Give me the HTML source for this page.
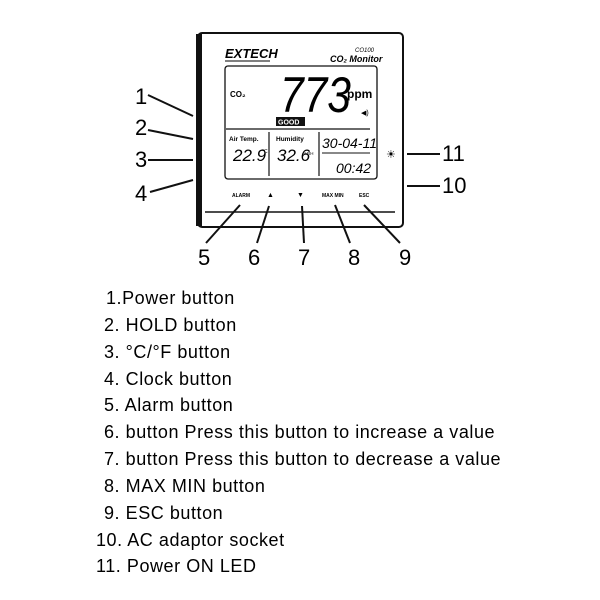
<!DOCTYPE html><html><head><style>
body{margin:0;background:#fff;width:600px;height:600px;overflow:hidden;position:relative;font-family:"Liberation Sans",sans-serif}
.l{position:absolute;font-size:18px;letter-spacing:0.55px;color:#000;white-space:nowrap}
</style></head><body>
<svg width="600" height="600" style="position:absolute;left:0;top:0" font-family="Liberation Sans, sans-serif">
<rect x="198" y="33" width="205" height="194" rx="4" fill="#fff" stroke="#111" stroke-width="2"/>
<rect x="196" y="34" width="6" height="192" fill="#111"/>
<line x1="205" y1="212" x2="395" y2="212" stroke="#111" stroke-width="1.5"/>
<text x="225" y="58" font-size="13" font-weight="bold" font-style="italic">EXTECH</text>
<line x1="225" y1="61" x2="270" y2="61" stroke="#000"/>
<text x="355" y="52" font-size="6" font-style="italic">CO100</text>
<text x="330" y="62" font-size="9" font-weight="bold" font-style="italic">CO₂ Monitor</text>
<rect x="225" y="66" width="152" height="113" rx="3" fill="#fff" stroke="#111" stroke-width="1.3"/>
<text x="230" y="97" font-size="8" font-weight="bold">CO₂</text>
<text x="280" y="112" font-size="50" font-style="italic" transform="scale(0.85,1)" transform-origin="280 112">773</text>
<text x="347" y="98" font-size="12" font-weight="bold">ppm</text>
<text x="361" y="115" font-size="7">◀)</text>
<rect x="276" y="117" width="29" height="9" fill="#111"/>
<text x="278" y="124.5" font-size="7" font-weight="bold" fill="#fff">GOOD</text>
<line x1="226" y1="129" x2="370" y2="129" stroke="#111" stroke-width="1.3"/>
<line x1="269" y1="132" x2="269" y2="176" stroke="#111" stroke-width="1.2"/>
<line x1="319" y1="132" x2="319" y2="176" stroke="#111" stroke-width="1.2"/>
<line x1="322" y1="153" x2="370" y2="153" stroke="#111"/>
<text x="229" y="141" font-size="6.5" font-weight="bold">Air Temp.</text>
<text x="233" y="161" font-size="17" font-style="italic">22.9</text><text x="262" y="153" font-size="5">°C</text>
<text x="276" y="141" font-size="6.5" font-weight="bold">Humidity</text>
<text x="277" y="161" font-size="17" font-style="italic">32.6</text><text x="303" y="155" font-size="4.5">%RH</text>
<text x="322" y="148" font-size="14" font-style="italic">30-04-11</text>
<text x="336" y="173" font-size="14" font-style="italic">00:42</text>
<text x="232" y="197" font-size="5" font-weight="bold">ALARM</text>
<text x="267" y="197" font-size="7">▲</text>
<text x="297" y="197" font-size="7">▼</text>
<text x="322" y="197" font-size="5" font-weight="bold">MAX MIN</text>
<text x="359" y="197" font-size="5" font-weight="bold">ESC</text>
<text x="386" y="158" font-size="11">☀</text>
<g stroke="#111" stroke-width="2" fill="none">
<line x1="148" y1="95" x2="193" y2="116"/>
<line x1="148" y1="130" x2="193" y2="139"/>
<line x1="148" y1="160" x2="193" y2="160"/>
<line x1="150" y1="192" x2="193" y2="180"/>
<line x1="407" y1="154" x2="440" y2="154"/>
<line x1="407" y1="186" x2="440" y2="186"/>
<line x1="240" y1="205" x2="206" y2="243"/>
<line x1="269" y1="206" x2="257" y2="243"/>
<line x1="302" y1="206" x2="304" y2="243"/>
<line x1="335" y1="205" x2="350" y2="243"/>
<line x1="364" y1="205" x2="400" y2="243"/>
</g>
<g font-size="22">
<text x="135" y="104">1</text><text x="135" y="135">2</text><text x="135" y="167">3</text><text x="135" y="201">4</text>
<text x="442" y="161">11</text><text x="442" y="193">10</text>
<text x="198" y="265">5</text><text x="248" y="265">6</text><text x="298" y="265">7</text><text x="348" y="265">8</text><text x="399" y="265">9</text>
</g>
</svg>
<div class="l" style="left:106px;top:288px">1.Power button</div>
<div class="l" style="left:104px;top:315px">2. HOLD button</div>
<div class="l" style="left:104px;top:342px">3. °C/°F button</div>
<div class="l" style="left:104px;top:369px">4. Clock button</div>
<div class="l" style="left:104px;top:395px">5. Alarm button</div>
<div class="l" style="left:104px;top:422px">6. button Press this button to increase a value</div>
<div class="l" style="left:104px;top:449px">7. button Press this button to decrease a value</div>
<div class="l" style="left:104px;top:476px">8. MAX MIN button</div>
<div class="l" style="left:104px;top:503px">9. ESC button</div>
<div class="l" style="left:96px;top:530px">10. AC adaptor socket</div>
<div class="l" style="left:96px;top:556px">11. Power ON LED</div>
</body></html>
